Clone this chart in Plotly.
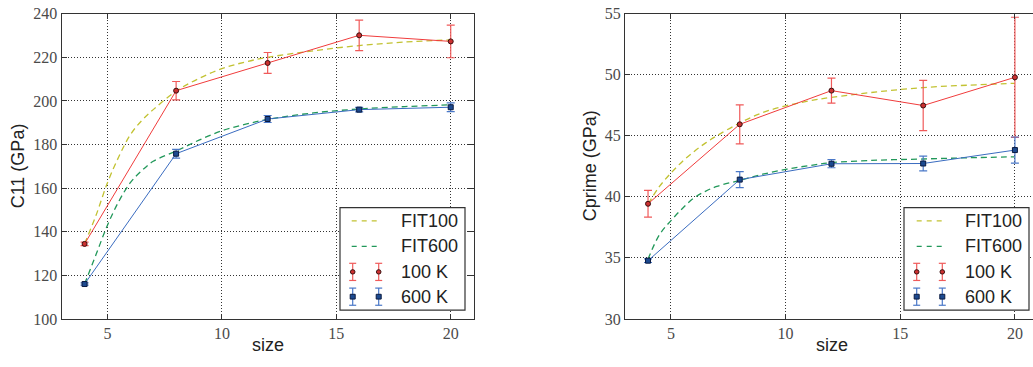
import plotly.graph_objects as go

# ---------------- data ----------------
sizes = [4, 8, 12, 16, 20]

c11_100 = [134.4, 204.7, 217.4, 230.1, 227.3]
c11_100_err = [0.8, 4.2, 4.8, 7.0, 7.5]
c11_600 = [116.0, 175.8, 191.7, 196.0, 197.1]
c11_600_err = [0.5, 2.0, 1.6, 1.0, 2.0]

cp_100 = [39.43, 45.94, 48.70, 47.48, 49.79]
cp_100_err = [1.1, 1.6, 1.03, 2.06, 4.92]
cp_600 = [34.77, 41.41, 42.71, 42.73, 43.83]
cp_600_err = [0.15, 0.66, 0.33, 0.6, 1.07]

fit_x = [4, 4.5, 5, 5.5, 6, 6.5, 7, 8, 9, 10, 11, 12, 14, 16, 18, 20]
fit100_c11 = [134.5, 147.5, 162.5, 174.5, 184.5, 191.0, 196.0, 204.5, 210.3, 214.8, 217.8, 220.0, 223.0, 225.4, 227.0, 228.0]
fit600_c11 = [116.0, 129.5, 143.0, 154.0, 162.5, 168.0, 172.3, 177.0, 182.0, 186.3, 189.2, 191.5, 194.5, 196.3, 197.4, 198.2]
fit100_cp = [39.4, 40.85, 41.95, 42.9, 43.7, 44.4, 45.0, 46.05, 46.9, 47.45, 47.85, 48.15, 48.6, 48.95, 49.15, 49.3]
fit600_cp = [34.9, 36.9, 38.05, 39.05, 39.9, 40.45, 40.85, 41.35, 41.85, 42.25, 42.55, 42.8, 43.0, 43.1, 43.2, 43.28]

legend_labels = ["FIT100", "FIT600", "100 K", "600 K"]

# ---------------- style ----------------
W, H = 1033, 367
RED = "#f03c3c"
RED_ERR = "#f05a5a"
RED_FILL = "#cc3030"
BLUE = "#3a6cc0"
BLUE_ERR = "#4a78c8"
BLUE_FILL = "#1c4a90"
FIT100_C = "#c2c232"
FIT600_C = "#22985a"
DASH = "6px,4px"

def px(p):
    return p / W

def py(p):
    return 1 - p / H

fig = go.Figure()

def add_panel(xa, ya, fit100, fit600, v100, e100, v600, e600):
    fig.add_trace(go.Scatter(x=fit_x, y=fit100, mode="lines", line=dict(color=FIT100_C, width=1.3, dash=DASH, shape="spline"),
                             xaxis=xa, yaxis=ya, showlegend=False))
    fig.add_trace(go.Scatter(x=fit_x, y=fit600, mode="lines", line=dict(color=FIT600_C, width=1.3, dash=DASH, shape="spline"),
                             xaxis=xa, yaxis=ya, showlegend=False))
    fig.add_trace(go.Scatter(x=sizes, y=v100, mode="lines+markers",
                             line=dict(color=RED, width=1),
                             marker=dict(symbol="circle", size=5, color=RED_FILL, line=dict(color="#3a1010", width=1)),
                             error_y=dict(type="data", array=e100, color=RED_ERR, thickness=1.2, width=4),
                             xaxis=xa, yaxis=ya, showlegend=False))
    fig.add_trace(go.Scatter(x=sizes, y=v600, mode="lines+markers",
                             line=dict(color=BLUE, width=1),
                             marker=dict(symbol="square", size=5, color=BLUE_FILL, line=dict(color="#0a1a40", width=1)),
                             error_y=dict(type="data", array=e600, color=BLUE_ERR, thickness=1.2, width=4),
                             xaxis=xa, yaxis=ya, showlegend=False))

add_panel("x", "y", fit100_c11, fit600_c11, c11_100, c11_100_err, c11_600, c11_600_err)
add_panel("x2", "y2", fit100_cp, fit600_cp, cp_100, cp_100_err, cp_600, cp_600_err)

tickfont = dict(family="Liberation Serif", size=16, color="#4a4a4a")
common = dict(showgrid=True, gridcolor="#333", griddash="1px,2px", gridwidth=1,
              zeroline=False, showline=True, linecolor="#333", linewidth=1.3,
              ticks="inside", ticklen=5, tickcolor="#333", tickwidth=1, tickfont=tickfont,
              ticklabeloverflow="allow")

ydom = [py(326), py(6)]
fig.update_layout(
    width=W, height=H, margin=dict(l=0, r=0, t=0, b=0),
    paper_bgcolor="white", plot_bgcolor="white",
    xaxis=dict(domain=[px(61.7), px(473.6)], range=[3, 21], dtick=5, tick0=0, anchor="y", mirror="allticks", **common),
    yaxis=dict(domain=ydom, range=[100, 240], dtick=20, anchor="x", mirror="allticks", **common),
    xaxis2=dict(domain=[px(625.1), 1.0], range=[3, 3 + (W - 625.1) / 22.93], dtick=5, tick0=0, anchor="y2", mirror="allticks", **common),
    yaxis2=dict(domain=ydom, range=[30, 55], dtick=5, anchor="x2", mirror=False, **common),
)

shapes = []
annotations = []
titlefont = dict(family="Liberation Sans", size=18, color="#222")

# axis titles
annotations.append(dict(x=px(18), y=py(166), xref="paper", yref="paper", text="C11 (GPa)", textangle=-90,
                        showarrow=False, font=titlefont, xanchor="center", yanchor="middle"))
annotations.append(dict(x=px(590), y=py(166), xref="paper", yref="paper", text="Cprime (GPa)", textangle=-90,
                        showarrow=False, font=titlefont, xanchor="center", yanchor="middle"))
annotations.append(dict(x=px(267.7), y=py(353), xref="paper", yref="paper", text="size",
                        showarrow=False, font=titlefont, xanchor="center", yanchor="middle"))
annotations.append(dict(x=px(831.6), y=py(353), xref="paper", yref="paper", text="size",
                        showarrow=False, font=titlefont, xanchor="center", yanchor="middle"))

def draw_legend(bx0, by0, bx1, by1, dx0, dx1, m1, m2, tx):
    shapes.append(dict(type="rect", xref="paper", yref="paper", x0=px(bx0), x1=px(bx1), y0=py(by0), y1=py(by1),
                       line=dict(color="#333", width=1.2), fillcolor="white", layer="above"))
    rows = [223.3, 250.0, 276.7, 302.7]
    # fits
    for yy, col in zip(rows[:2], [FIT100_C, FIT600_C]):
        shapes.append(dict(type="line", xref="paper", yref="paper", x0=px(dx0), x1=px(dx1), y0=py(yy), y1=py(yy),
                           line=dict(color=col, width=1.3, dash="5px,5px"), layer="above"))
    # error markers
    for yy, ecol, fill, edge, sym in [(rows[2], RED_ERR, RED_FILL, "#3a1010", "circle"),
                                      (rows[3], BLUE_ERR, BLUE_FILL, "#0a1a40", "square")]:
        for mx in (m1, m2):
            shapes.append(dict(type="line", xref="paper", yref="paper", x0=px(mx), x1=px(mx), y0=py(yy - 9), y1=py(yy + 9),
                               line=dict(color=ecol, width=1.2), layer="above"))
            for cy in (yy - 9, yy + 9):
                shapes.append(dict(type="line", xref="paper", yref="paper", x0=px(mx - 3.5), x1=px(mx + 3.5), y0=py(cy), y1=py(cy),
                                   line=dict(color=ecol, width=1.2), layer="above"))
            r = 2.3 if sym == "circle" else 2.5
            shapes.append(dict(type="circle" if sym == "circle" else "rect", xref="paper", yref="paper",
                               x0=px(mx - r), x1=px(mx + r), y0=py(yy - r), y1=py(yy + r),
                               line=dict(color=edge, width=1), fillcolor=fill, layer="above"))
    for yy, lab in zip(rows, legend_labels):
        annotations.append(dict(x=px(tx), y=py(yy), xref="paper", yref="paper", text=lab, showarrow=False,
                                font=titlefont, xanchor="left", yanchor="middle"))

draw_legend(340, 209.3, 465, 316.7, 351.7, 380, 352.7, 378.7, 399.3)
draw_legend(904, 209.3, 1029, 316.7, 916.7, 943.3, 916.7, 942.3, 963.3)

fig.update_layout(shapes=shapes, annotations=annotations)
fig.write_html("out.html")
